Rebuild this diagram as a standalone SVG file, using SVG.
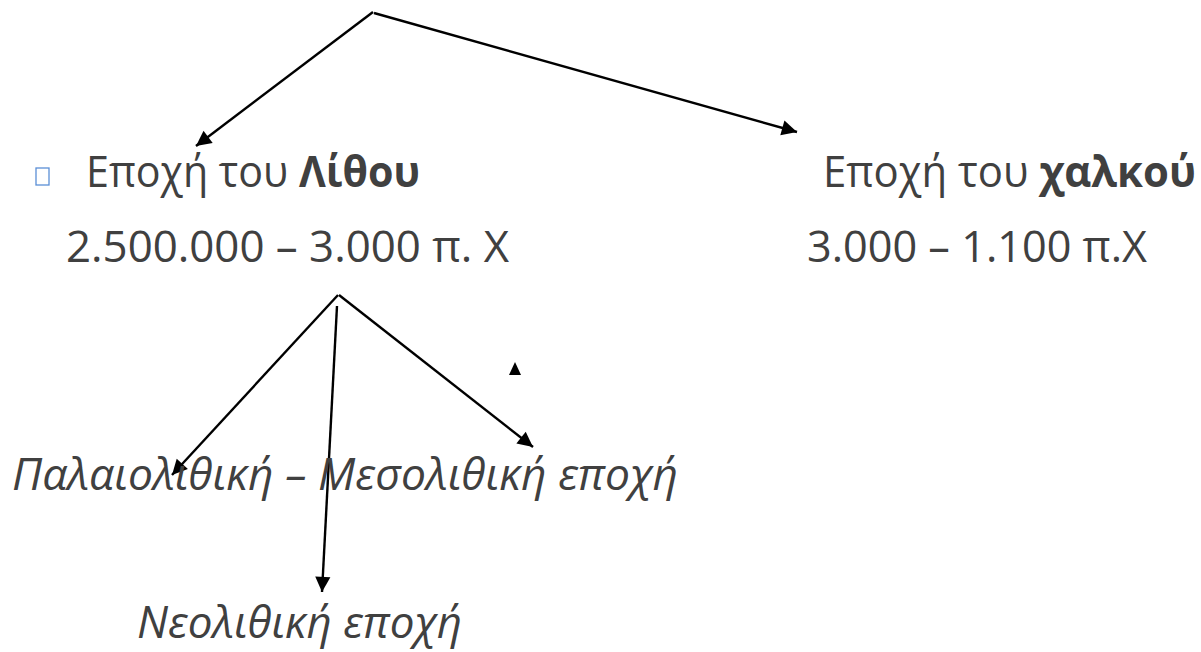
<svg xmlns="http://www.w3.org/2000/svg" width="1201" height="652" viewBox="0 0 1201 652">
<style>
.t{font-family:"Open Sans","Noto Sans","DejaVu Sans",sans-serif;font-size:43px;fill:#404040}
.i{font-style:italic}
.b{font-weight:bold}
.c{stroke:#000;stroke-width:2.4;fill:none}
</style>
<defs>
<marker id="ah" viewBox="0 0 10 10" refX="10" refY="5" markerWidth="8" markerHeight="8" markerUnits="userSpaceOnUse" orient="auto" style="overflow:visible">
<path d="M0,0 L10,5 L0,10 z" fill="#000" transform="scale(1.9)" transform-origin="10 5"/>
</marker>
</defs>
<rect width="1201" height="652" fill="#fff"/>
<g id="connectors">
<line class="c" x1="373" y1="12" x2="196" y2="146" marker-end="url(#ah)"/>
<line class="c" x1="374" y1="13" x2="797" y2="132" marker-end="url(#ah)"/>
<line class="c" x1="338" y1="295" x2="172" y2="475" marker-end="url(#ah)"/>
<line class="c" x1="337" y1="306" x2="322" y2="592" marker-end="url(#ah)"/>
<line class="c" x1="339" y1="295" x2="533" y2="447" marker-end="url(#ah)"/>
</g>
<g id="stray-triangle"><path d="M509,375 L521,375 L515,362 z" fill="#000"/></g>
<g id="node-stone">
<rect x="36" y="168" width="13" height="17" fill="none" stroke="#5b8fd6" stroke-width="1.3"/>
<text class="t" x="86" y="187" textLength="334" lengthAdjust="spacingAndGlyphs">Εποχή του <tspan class="b">Λίθου</tspan></text>
<text class="t" x="66" y="262" textLength="443" lengthAdjust="spacingAndGlyphs">2.500.000 – 3.000 π. Χ</text>
</g>
<g id="node-copper">
<text class="t" x="823" y="187" textLength="373" lengthAdjust="spacingAndGlyphs">Εποχή του <tspan class="b">χαλκού</tspan></text>
<text class="t" x="807" y="262" textLength="340" lengthAdjust="spacingAndGlyphs">3.000 – 1.100 π.Χ</text>
</g>
<g id="node-paleo">
<text class="t i" x="12" y="490" textLength="666" lengthAdjust="spacingAndGlyphs">Παλαιολιθική – Μεσολιθική εποχή</text>
</g>
<g id="node-neo">
<text class="t i" x="137" y="638" textLength="325" lengthAdjust="spacingAndGlyphs">Νεολιθική εποχή</text>
</g>
</svg>
